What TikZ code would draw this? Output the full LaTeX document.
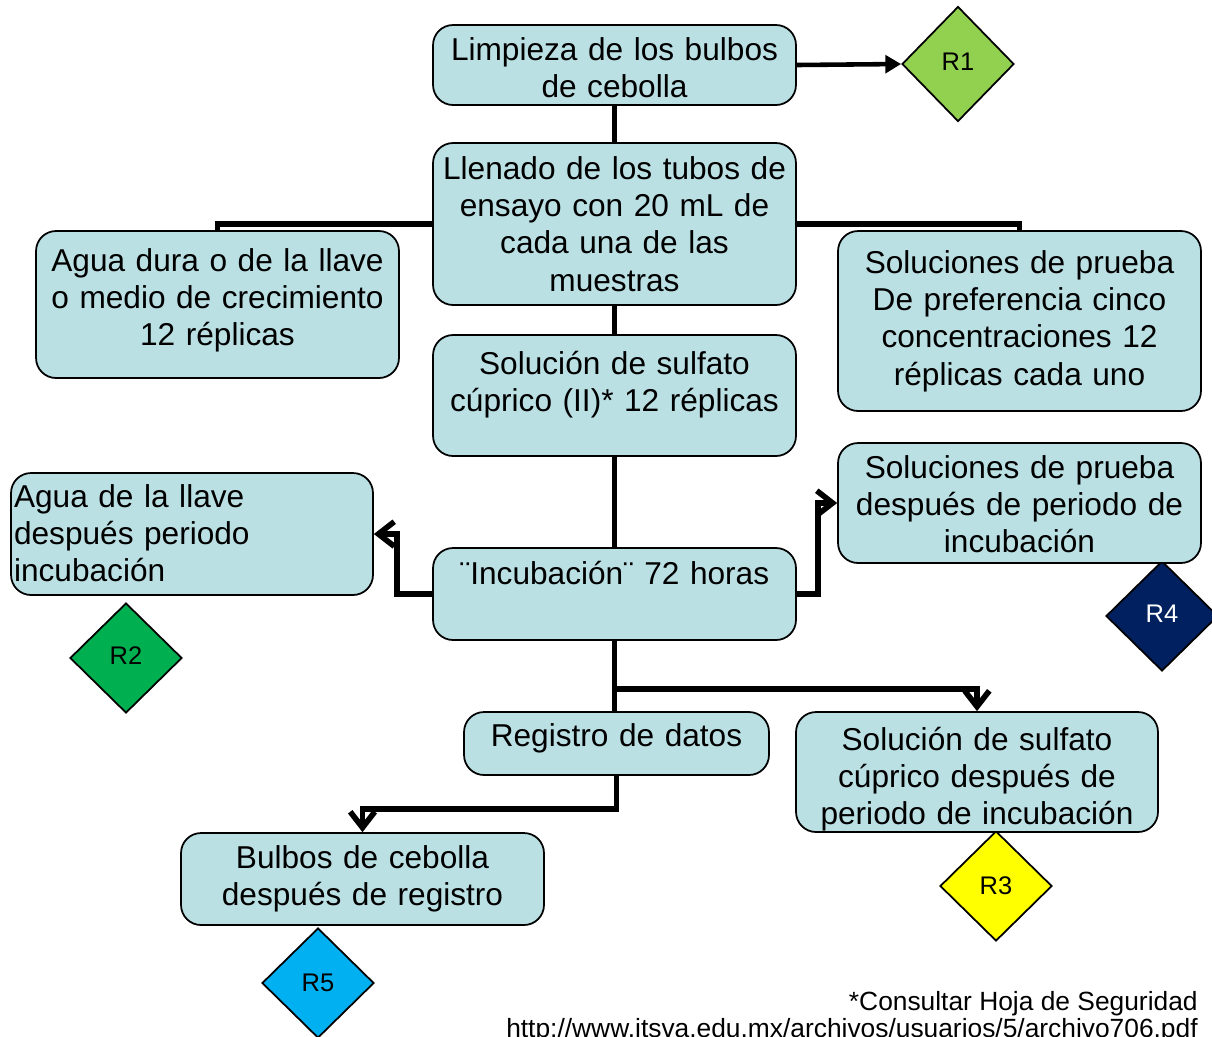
\documentclass[tikz,border=0pt]{standalone}
\usepackage{fontspec}
\setmainfont{Liberation Sans}
\usetikzlibrary{shapes.geometric,arrows.meta}
\definecolor{cajafill}{RGB}{186,224,228}
\definecolor{rverde}{RGB}{146,208,80}
\definecolor{rverdeosc}{RGB}{0,176,80}
\definecolor{ramarillo}{RGB}{255,255,0}
\definecolor{rmarino}{RGB}{0,32,96}
\definecolor{razul}{RGB}{0,176,240}
\tikzset{
  caja/.style={draw, line width=1pt, fill=cajafill, rounded corners=0.4cm, align=center,
    inner xsep=0.1cm, inner ysep=0pt, minimum width=7.26cm, text width=7.06cm,
    font=\fontsize{18}{21.2}\selectfont},
  rombo/.style={diamond, draw, line width=1pt, inner sep=0pt, minimum width=2.24cm,
    minimum height=2.2cm, font=\fontsize{14.5}{16}\selectfont},
  linea/.style={line width=3.2pt},
  flecha/.style={line width=3.2pt, -{Straight Barb[length=9pt,width=14pt]}},
}
\begin{document}
\begin{tikzpicture}[x=0.02cm, y=-0.02cm]
  \useasboundingbox (0,0) rectangle (1212,1036);

  % residuos
  \node [rombo, fill=rverde, minimum height=2.3cm] (r1) at (958,64) {\raisebox{0.1cm}{R1}};
  \node [rombo, fill=rverdeosc] (r2) at (126,658) {\raisebox{0.1cm}{R2}};
  \node [rombo, fill=ramarillo] (r3) at (996,886) {R3};
  \node [rombo, fill=rmarino, text=white] (r4) at (1162,616) {\raisebox{0.1cm}{R4}};
  \node [rombo, fill=razul] (r5) at (318,983) {R5};

  % cajas
  \node [caja, minimum height=1.6cm] (limpieza) at (614.5,65)
    {\raisebox{-0.13cm}[\height][\depth]{\begin{tabular}{@{}c@{}}Limpieza de los bulbos\\de cebolla\end{tabular}}};
  \node [caja, minimum height=3.24cm] (llenado) at (614.5,224)
    {Llenado de los tubos de\\ensayo con 20 mL de\\cada una de las\\muestras};
  \node [caja, minimum height=2.94cm] (agua) at (217.5,304.5)
    {\raisebox{0.07cm}[\height][\depth]{\begin{tabular}{@{}c@{}}Agua dura o de la llave\\o medio de crecimiento\\12 réplicas\end{tabular}}};
  \node [caja, minimum height=3.6cm] (soluciones) at (1019.5,321)
    {Soluciones de prueba\\De preferencia cinco\\concentraciones 12\\réplicas cada uno};
  \node [caja, minimum height=2.42cm] (sulfato) at (614.5,395.5)
    {\raisebox{0.2cm}[\height][\depth]{\begin{tabular}{@{}c@{}}Solución de sulfato\\cúprico (II)* 12 réplicas\end{tabular}}};
  \node [caja, minimum width=7.24cm, minimum height=2.44cm, align=left,
    inner xsep=0.06cm, text width=7.12cm] (aguadesp) at (192,534)
    {\raisebox{-0.06cm}[\height][\depth]{\begin{tabular}{@{}l@{}}Agua de la llave\\después periodo\\incubación\end{tabular}}};
  \node [caja, minimum height=1.84cm] (incubacion) at (614.5,594)
    {\raisebox{0.42cm}[\height][\depth]{¨Incubación¨ 72 horas}};
  \node [caja, minimum height=2.4cm] (soldesp) at (1019.5,503)
    {\raisebox{-0.1cm}[\height][\depth]{\begin{tabular}{@{}c@{}}Soluciones de prueba\\después de periodo de\\incubación\end{tabular}}};
  \node [caja, minimum width=6.1cm, text width=5.9cm, minimum height=1.26cm] (registro)
    at (616.5,743.5) {\raisebox{0.1cm}[\height][\depth]{Registro de datos}};
  \node [caja, minimum width=7.24cm, text width=7.04cm, minimum height=2.4cm] (sulfdesp)
    at (977,772)
    {\raisebox{-0.16cm}[\height][\depth]{\begin{tabular}{@{}c@{}}Solución de sulfato\\cúprico después de\\periodo de incubación\end{tabular}}};
  \node [caja, minimum height=1.84cm] (bulbos) at (362.5,879)
    {Bulbos de cebolla\\después de registro};

  % conexiones
  \draw [line width=2.6pt, -{Triangle[length=9pt,width=10pt]}] (limpieza.east) -- (r1.west);
  \draw [linea] (limpieza.south) -- (llenado.north);
  \draw [linea] (agua.north) |- (llenado.west);
  \draw [linea] (llenado.east) -| (soluciones.north);
  \draw [linea] (llenado.south) -- (sulfato.north);
  \draw [linea] (sulfato.south) -- (incubacion.north);
  \draw [flecha] (incubacion.west) -- ++(-35,0) |- (aguadesp.east);
  \draw [flecha] (incubacion.east) -- ++(21,0) |- (soldesp.west);
  \draw [linea] (incubacion.south) -- (incubacion.south |- registro.north);
  \draw [flecha] (incubacion.south) -- ++(0,48) -| (sulfdesp.north);
  \draw [flecha] (registro.south) -- ++(0,33) -| (bulbos.north);

  % nota
  \node [anchor=north east, align=right, inner sep=0pt, font=\fontsize{15}{15.4}\selectfont]
    (nota) at (1198,991)
    {*Consultar Hoja de Seguridad\\http://www.itsva.edu.mx/archivos/usuarios/5/archivo706.pdf};
\end{tikzpicture}
\end{document}
